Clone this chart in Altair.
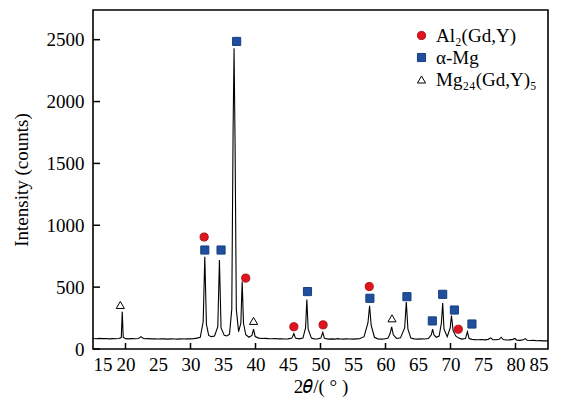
import altair as alt
import pandas as pd

# XRD pattern (2theta, intensity)
two_theta = [15.0, 15.5, 16.0, 16.5, 17.0, 17.5, 18.0, 18.5, 19.0, 19.35, 19.5, 19.65, 20.0, 20.5, 21.0,
             21.5, 22.0, 22.4, 22.7, 23.0, 23.5, 24.0, 24.5, 25.0, 25.5, 26.0, 26.5, 27.0, 27.5, 28.0,
             28.5, 29.0, 29.5, 30.0, 30.5, 31.0, 31.5, 31.95, 32.2, 32.45, 32.8, 33.2, 33.7, 34.2, 34.45,
             34.7, 35.2, 35.6, 36.0, 36.35, 36.55, 36.7, 36.85, 37.05, 37.4, 37.75, 37.95, 38.15, 38.5, 39.0,
             39.45, 39.7, 39.95, 40.5, 41.0, 41.5, 42.0, 42.5, 43.0, 43.5, 44.0, 44.5, 45.0, 45.6, 45.9,
             46.15, 46.7, 47.3, 47.7, 47.9, 48.1, 48.6, 49.0, 49.5, 50.05, 50.35, 50.6, 51.2, 51.7, 52.2,
             52.7, 53.0, 53.5, 54.0, 54.5, 55.0, 55.5, 56.0, 56.7, 57.3, 57.55, 57.8, 58.3, 58.8, 59.3,
             59.8, 60.4, 60.7, 60.95, 61.2, 61.7, 62.3, 62.95, 63.2, 63.45, 63.9, 64.4, 65.0, 65.5, 66.0,
             66.6, 67.05, 67.25, 67.45, 67.8, 68.25, 68.6, 68.8, 69.0, 69.5, 69.95, 70.15, 70.4, 70.8, 71.2,
             71.7, 72.3, 72.6, 72.85, 73.3, 73.8, 74.3, 74.8, 75.3, 75.8, 76.2, 76.5, 77.0, 77.5, 77.8,
             78.1, 78.6, 79.1, 79.6, 79.9, 80.2, 80.7, 81.2, 81.5, 81.8, 82.3, 82.8, 83.3, 83.8, 84.3, 85.0]
intensity = [85, 83, 86, 84, 85, 82, 84, 83, 85, 92, 300, 95, 84, 82, 84,
             83, 85, 100, 86, 83, 84, 82, 83, 81, 83, 82, 80, 82, 81, 80,
             82, 81, 83, 82, 84, 88, 95, 220, 745, 200, 110, 100, 105, 180, 720,
             170, 110, 105, 120, 320, 1750, 2430, 1700, 320, 140, 210, 545, 210, 115, 95,
             110, 160, 100, 88, 85, 86, 84, 83, 85, 82, 83, 81, 82, 88, 125,
             88, 82, 88, 170, 400, 160, 88, 82, 81, 88, 135, 86, 80, 82, 80,
             84, 81, 80, 82, 81, 80, 82, 83, 100, 210, 350, 190, 95, 82, 80,
             81, 88, 125, 178, 115, 85, 90, 170, 380, 160, 88, 82, 80, 82, 81,
             85, 115, 160, 115, 95, 105, 210, 372, 160, 100, 170, 270, 150, 105, 90,
             80, 84, 140, 85, 78, 76, 75, 77, 74, 78, 90, 76, 75, 78, 95,
             76, 73, 74, 78, 85, 72, 70, 74, 84, 71, 69, 70, 67, 68, 66, 66]

# Phase markers
phases = ["Al\u2082(Gd,Y)", "\u03b1-Mg", "Mg\u2082\u2084(Gd,Y)\u2085"]
al_x = [32.1, 38.5, 45.9, 50.4, 57.5, 71.2]
al_y = [905, 573, 180, 195, 505, 160]
mg_x = [32.2, 34.7, 37.1, 48.0, 57.6, 63.3, 67.2, 68.8, 70.6, 73.3]
mg_y = [800, 800, 2486, 464, 410, 423, 227, 442, 315, 202]
tri_x = [19.2, 39.7, 61.0]
tri_y = [356, 227, 248]

x_labels = list(range(15, 90, 5))
x_ticks_major = [20, 30, 40, 50, 60, 70, 80]
y_ticks = [0, 500, 1000, 1500, 2000, 2500]

spec = pd.DataFrame({"t": two_theta, "i": intensity})
markers = pd.DataFrame({
    "t": al_x + mg_x + tri_x,
    "i": al_y + mg_y + tri_y,
    "phase": [phases[0]] * len(al_x) + [phases[1]] * len(mg_x) + [phases[2]] * len(tri_x),
})

W, H = 455, 339
FONT = "Liberation Serif"

xscale = alt.Scale(domain=[15, 85], nice=False)
yscale = alt.Scale(domain=[0, 2740], nice=False)

axis_style = dict(labelFont=FONT, labelFontSize=19, labelColor="black",
                  titleFont=FONT, titleFontSize=19, titleColor="black", titleFontWeight="normal",
                  labelOverlap=False, ticks=False, domain=False, grid=False, format="d")
x_axis = alt.Axis(title="2\U0001D703/( \u00b0 )", values=x_labels,
                  labelPadding=6, titlePadding=3, **axis_style)
y_axis = alt.Axis(title="Intensity (counts)", values=y_ticks,
                  labelPadding=9, titlePadding=15, **axis_style)

line = alt.Chart(spec).mark_line(color="black", strokeWidth=1.1).encode(
    x=alt.X("t:Q", scale=xscale, axis=x_axis),
    y=alt.Y("i:Q", scale=yscale, axis=y_axis),
)

legend = alt.Legend(title=None, orient="none", legendX=319, legendY=16,
                    labelFont=FONT, labelFontSize=19, labelColor="black",
                    rowPadding=2, labelOffset=5, symbolStrokeWidth=1)

pts = alt.Chart(markers).mark_point(filled=True, opacity=1, strokeWidth=1).encode(
    x=alt.X("t:Q", scale=xscale, axis=x_axis),
    y=alt.Y("i:Q", scale=yscale, axis=y_axis),
    shape=alt.Shape("phase:N", scale=alt.Scale(domain=phases, range=["circle", "square", "triangle-up"]),
                    legend=legend),
    fill=alt.Fill("phase:N", scale=alt.Scale(domain=phases, range=["#e0141c", "#1f4f9e", "white"]),
                  legend=legend),
    stroke=alt.Stroke("phase:N", scale=alt.Scale(domain=phases, range=["#b01018", "#17407f", "black"]),
                      legend=legend),
    size=alt.Size("phase:N", scale=alt.Scale(domain=phases, range=[66, 66, 95]), legend=legend),
)

xt = alt.Chart(pd.DataFrame({"t": x_ticks_major})).mark_rule(color="black", strokeWidth=1.5).encode(
    x=alt.X("t:Q", scale=xscale, axis=x_axis), y=alt.value(H), y2=alt.value(H - 6))
yt = alt.Chart(pd.DataFrame({"i": y_ticks})).mark_rule(color="black", strokeWidth=1.5).encode(
    y=alt.Y("i:Q", scale=yscale, axis=y_axis), x=alt.value(0), x2=alt.value(7))

chart = alt.layer(line, xt, yt, pts).properties(
    width=W, height=H,
    background="white",
    autosize=alt.AutoSizeParams(type="none"),
    padding={"left": 93, "top": 10, "right": 21, "bottom": 53},
).configure_view(stroke="black", strokeWidth=1.6)

chart.save("out.html", embed_options={"renderer": "svg", "actions": False})
